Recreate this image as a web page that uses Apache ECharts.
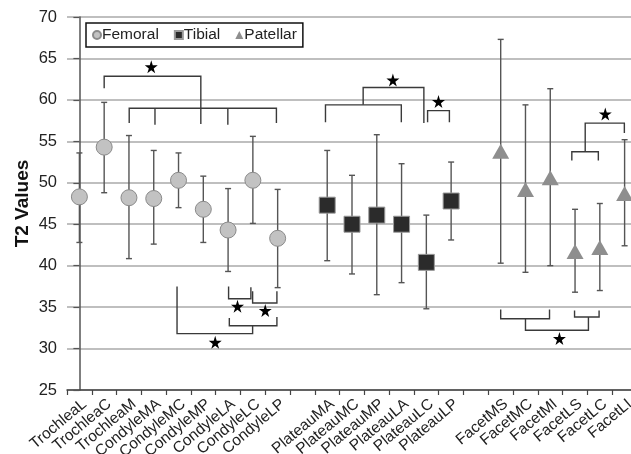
<!DOCTYPE html>
<html>
<head>
<meta charset="utf-8">
<script src="https://cdn.jsdelivr.net/npm/echarts@6/dist/echarts.min.js"></script>
<style>html,body{margin:0;padding:0;background:#fff;}#c{width:631px;height:454px;}</style>
</head>
<body>
<div id="c"></div>
<script>
const categories = ['TrochleaL','TrochleaC','TrochleaM','CondyleMA','CondyleMC','CondyleMP','CondyleLA','CondyleLC','CondyleLP','',
  'PlateauMA','PlateauMC','PlateauMP','PlateauLA','PlateauLC','PlateauLP','',
  'FacetMS','FacetMC','FacetMI','FacetLS','FacetLC','FacetLI'];
const yTicks = [25,30,35,40,45,50,55,60,65,70];

const femoralIdx  = [0,1,2,3,4,5,6,7,8];
const femoralMean = [48.3,54.3,48.2,48.1,50.3,46.8,44.3,50.3,43.3];
const femoralLow  = [42.8,48.8,40.85,42.6,47.0,42.8,39.3,45.1,37.35];
const femoralHigh = [53.6,59.7,55.7,53.9,53.6,50.8,49.3,55.6,49.2];

const tibialIdx  = [10,11,12,13,14,15];
const tibialMean = [47.3,45.0,46.1,45.0,40.4,47.8];
const tibialLow  = [40.6,39.0,36.5,37.95,34.8,43.1];
const tibialHigh = [53.9,50.9,55.8,52.3,46.1,52.5];

const patellarIdx  = [17,18,19,20,21,22];
const patellarMean = [53.8,49.2,50.6,41.7,42.2,48.7];
const patellarLow  = [40.3,39.2,40.0,36.8,37.0,42.4];
const patellarHigh = [67.3,59.4,61.35,46.8,47.5,55.2];

// significance brackets: polylines in [category index, T2 value]
const brackets = [
  [[1,61.4],[1,62.85],[4.9,62.85],[4.9,57.1]],
  [[2.01,57.2],[2.01,59.0],[7.95,59.0],[7.95,57.2]],
  [[3.05,59.0],[3.05,57.0]],
  [[5.99,59.0],[5.99,57.0]],
  [[3.94,37.5],[3.94,31.8],[6.99,31.8],[6.99,32.76]],
  [[6.05,33.7],[6.05,32.76],[7.97,32.76],[7.97,33.8]],
  [[6.02,37.5],[6.02,36.0],[6.92,36.0],[6.92,37.4]],
  [[6.99,36.9],[6.99,35.5],[7.97,35.5],[7.97,36.9]],
  [[9.93,57.3],[9.93,59.4],[12.99,59.4],[12.99,57.3]],
  [[11.45,59.4],[11.45,61.5],[13.9,61.5],[13.9,57.2]],
  [[14.05,57.3],[14.05,58.7],[14.93,58.7],[14.93,57.3]],
  [[19.87,52.7],[19.87,53.75],[20.94,53.75],[20.94,52.7]],
  [[20.41,53.75],[20.41,57.2],[21.99,57.2],[21.99,56.0]],
  [[17.0,34.7],[17.0,33.6],[18.97,33.6],[18.97,34.7]],
  [[18.0,33.6],[18.0,32.2],[20.54,32.2],[20.54,33.8]],
  [[19.98,34.6],[19.98,33.8],[20.97,33.8],[20.97,34.6]]
];
const stars = [[2.9,64.0],[5.48,30.75],[6.38,35.1],[7.5,34.6],[12.65,62.4],[14.49,59.8],[21.22,58.3],[19.37,31.2]];

const FONT = 'Liberation Sans, Arial, sans-serif';
const starPath = 'path://M50,0 L61,35 L98,35 L68,57 L79,91 L50,70 L21,91 L32,57 L2,35 L39,35 Z';

function pts(idx, vals){ return idx.map((x,i)=>[x, vals[i]]); }
function errs(idx, lo, hi){ return idx.map((x,i)=>[x, lo[i], hi[i]]); }

function errRender(params, api){
  const x = api.value(0);
  const a = api.coord([x, api.value(1)]);
  const b = api.coord([x, api.value(2)]);
  const w = 3;
  const st = {stroke:'#555', lineWidth:1.4, fill:null};
  return {type:'group', children:[
    {type:'line', shape:{x1:a[0],y1:a[1],x2:b[0],y2:b[1]}, style:st},
    {type:'line', shape:{x1:a[0]-w,y1:a[1],x2:a[0]+w,y2:a[1]}, style:st},
    {type:'line', shape:{x1:b[0]-w,y1:b[1],x2:b[0]+w,y2:b[1]}, style:st}
  ]};
}

const allErr = errs(femoralIdx,femoralLow,femoralHigh)
  .concat(errs(tibialIdx,tibialLow,tibialHigh))
  .concat(errs(patellarIdx,patellarLow,patellarHigh));

const chart = echarts.init(document.getElementById('c'), null, {renderer:'canvas'});
chart.setOption({
  animation:false,
  backgroundColor:'#fff',
  textStyle:{fontFamily:FONT},
  grid:{left:67, top:17, width:570, height:373, containLabel:false, outerBoundsMode:'none'},
  legend:{
    left:86, top:23, width:209, height:24,
    orient:'horizontal',
    borderColor:'#111', borderWidth:1.5, borderRadius:0,
    padding:[4,6,4,6],
    itemWidth:8, itemHeight:8, itemGap:15,
    textStyle:{fontFamily:FONT, fontSize:15.5, color:'#222', padding:[0,0,0,-4]},
    data:[{name:'Femoral', icon:'circle'},{name:'Tibial', icon:'rect'},{name:'Patellar', icon:'triangle'}]
  },
  xAxis:[
    {type:'category', data:categories, gridIndex:0,
     boundaryGap:true,
     axisLine:{show:true, lineStyle:{color:'#444', width:1.5}},
     axisTick:{show:true, interval:0, length:5, lineStyle:{color:'#444', width:1.2}},
     axisLabel:{interval:0, rotate:40, fontFamily:FONT, fontSize:15.5, color:'#222', margin:6,
       verticalAlign:'top'},
     splitLine:{show:false}},
    {type:'value', min:-0.5, max:22.5, show:false, gridIndex:0}
  ],
  yAxis:{
    type:'value', min:25, max:70, interval:5,
    name:'T2 Values', nameLocation:'middle', nameGap:35, nameMoveOverlap:false,
    nameTextStyle:{fontFamily:FONT, fontSize:19, fontWeight:'bold', color:'#111'},
    axisLine:{show:true, lineStyle:{color:'#555', width:1.5}},
    axisTick:{show:true, length:6, lineStyle:{color:'#555', width:1.2}},
    axisLabel:{fontFamily:FONT, fontSize:16.5, color:'#222', margin:10,
      formatter:v=> yTicks.indexOf(v)>=0 ? String(v) : ''},
    splitLine:{show:true, lineStyle:{color:'#aaa', width:1.5}}
  },
  series:[
    {type:'custom', xAxisIndex:1, renderItem:errRender, data:allErr, z:2, silent:true,
     encode:{x:0, y:[1,2]}},
    {type:'custom', xAxisIndex:1, z:2, silent:true,
     data:brackets.map((b,i)=>[b[0][0], b[0][1], i]),
     renderItem:function(params, api){
       const b = brackets[params.dataIndex];
       return {type:'polyline', shape:{points:b.map(p=>api.coord(p))},
               style:{stroke:'#3a3a3a', lineWidth:1.4, fill:null}};
     }},
    {name:'Femoral', type:'scatter', xAxisIndex:1, z:5, symbol:'circle', symbolSize:16,
     itemStyle:{color:'#c2c2c2', borderColor:'#8a8a8a', borderWidth:1, opacity:1},
     data:pts(femoralIdx,femoralMean)},
    {name:'Tibial', type:'scatter', xAxisIndex:1, z:5, symbol:'rect', symbolSize:16,
     itemStyle:{color:'#2b2b2b', borderColor:'#9a9a9a', borderWidth:1, opacity:1},
     data:pts(tibialIdx,tibialMean)},
    {name:'Patellar', type:'scatter', xAxisIndex:1, z:5, symbol:'triangle', symbolSize:[17,15],
     itemStyle:{color:'#8e8e8e', opacity:1},
     data:pts(patellarIdx,patellarMean)},
    {type:'scatter', xAxisIndex:1, z:6, symbol:starPath, symbolSize:13,
     itemStyle:{color:'#000', opacity:1}, data:stars, silent:true}
  ]
});
</script>
</body>
</html>
